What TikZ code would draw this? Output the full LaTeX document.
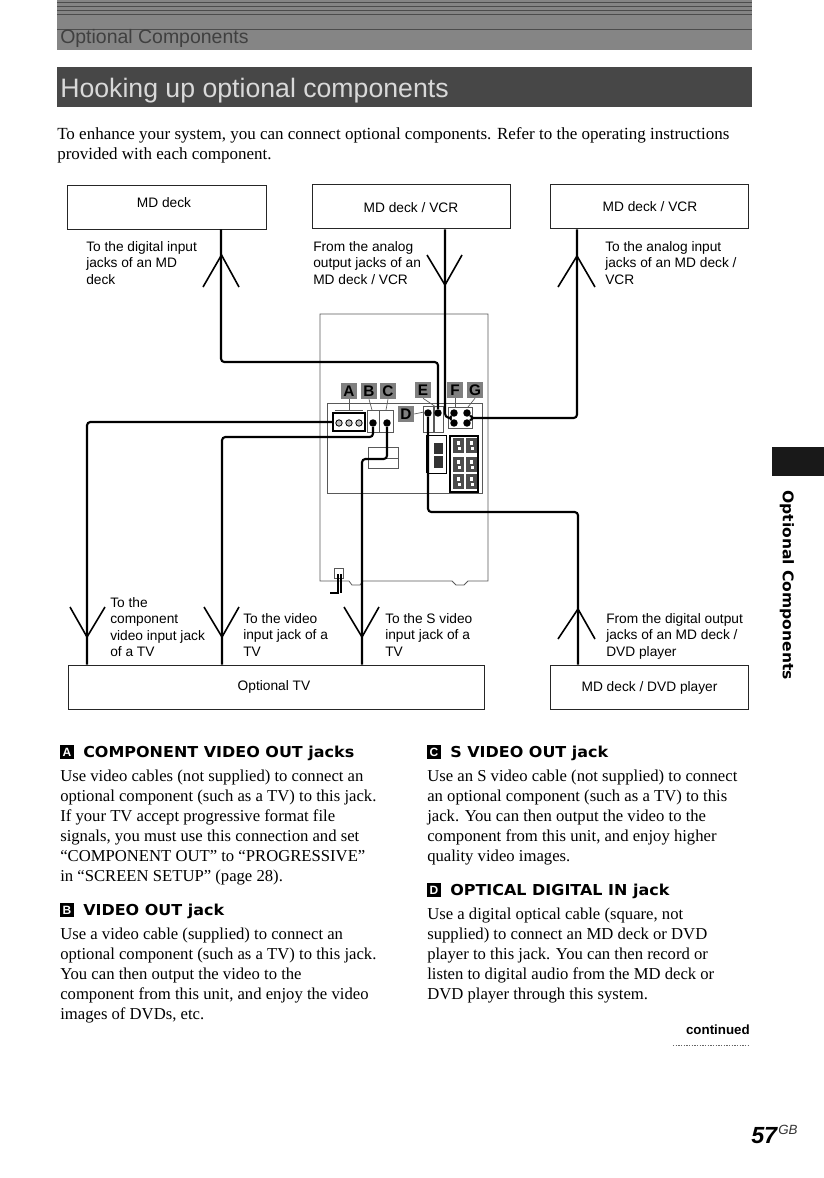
\documentclass[tikz,border=0pt]{standalone}
\usepackage{fontspec}
\setmainfont{Liberation Serif}
\newfontfamily\lab{Liberation Sans}
\newfontfamily\hd[FakeStretch=1.06]{DejaVu Sans}
\usetikzlibrary{calc}
\tikzset{
  px/.style={x=0.75pt,y=-0.75pt},
  devicebox/.style={draw=black!85,line width=0.7pt,fill=white,inner sep=0pt,font=\lab\fontsize{10.3}{11}\selectfont},
  devlabel/.style={anchor=center,inner sep=0pt,font=\lab\fontsize{10.3}{11}\selectfont},
  wire/.style={draw=black,line width=1.6pt,rounded corners=2.5pt},
  vee/.style={draw=black,line width=1.2pt},
  thinl/.style={draw=black!65,line width=0.5pt},
  med/.style={draw=black,line width=0.6pt},
  caption/.style={anchor=north west,inner sep=0pt,align=left,font=\lab\fontsize{10.3}{12.3}\selectfont},
  para/.style={anchor=north west,inner sep=0pt,align=left,font=\fontsize{12.5}{15}\selectfont},
  headg/.style={anchor=base west,inner sep=0pt,font=\hd\bfseries\fontsize{11.3}{13}\selectfont},
  badge/.style={fill=black,text=white,inner sep=0pt,minimum size=10.5pt,font=\lab\bfseries\fontsize{9}{10}\selectfont},
  tag/.style={fill=black!50,text=black,inner sep=0pt,minimum size=12pt,font=\lab\bfseries\fontsize{11.5}{12}\selectfont},
  jack/.style={circle,fill=black,inner sep=0pt,minimum size=5.6pt},
  ring/.style={circle,draw=black,fill=black!25,line width=0.6pt,inner sep=0pt,minimum size=4.8pt},
}
\begin{document}
\begin{tikzpicture}[px]
\useasboundingbox (0,0) rectangle (824,1178);
% bands
\fill[black!48] (57,0) rectangle (752,50);
\foreach \yy in {2,6,10,14,29} \draw[black!70,line width=0.6pt] (57,\yy) -- (752,\yy);
\node[anchor=base west,inner sep=0pt,text=black!75,font=\lab\fontsize{14.6}{18}\selectfont] (band1) at (60,43) {Optional Components};
\fill[black!72] (57,67) rectangle (752,107);
\node[anchor=base west,inner sep=0pt,text=black!15,font=\lab\fontsize{20}{24}\selectfont] (band2) at (60,97) {Hooking up optional components};
% intro
\node[para,font=\fontsize{12.75}{15}\selectfont] (intro) at (57,127) {To enhance your system, you can connect optional components. Refer to the operating instructions\\provided with each component.};
% body of the unit
\draw[thinl,line width=0.6pt] (349,581) -- (320,581) -- (320,314) -- (488,314) -- (488,581) -- (468,581) -- (464,585) -- (456,585) -- (452,581) -- (363,581) -- (360,585) -- (352,585) -- cycle;
\draw[thinl] (327,403) rectangle (482,493);
% power cord
\draw[thinl] (334,568) rectangle (343,578);
\draw[med,line width=0.9pt] (338,574) -- (338,593) -- (330,593);
\draw[med,line width=0.9pt] (341,574) -- (341,593);
% panel items
\draw[thinl] (335,410) -- (363,410);
\draw[thinl] (349,397) -- (349,410);
\draw[thinl] (367,410) rectangle (393,432);
\draw[thinl] (379,410) -- (379,432);
\draw[thinl] (368,447) rectangle (398,468);
\draw[thinl] (368,458) -- (398,458);
\draw[thinl] (423,406) rectangle (433,432);
\draw[thinl] (434,406) rectangle (443,432);
\draw[thinl] (448,407) rectangle (472,428);
\draw[draw=black,line width=1.6pt] (333,413) rectangle (365,431);
\node[ring] (rA1) at (339,423) {};
\node[ring] (rA2) at (349,423) {};
\node[ring] (rA3) at (359,423) {};
\draw[med] (427,435) rectangle (446,473);
\draw[draw=black,line width=1.4pt] (427,435) -- (427,473);
\fill[black!80] (434,443) rectangle (443,454);
\fill[black!80] (434,456) rectangle (443,468);
\draw[med,line width=0.9pt] (450,436) rectangle (478,492);
\foreach \xx in {453,466} \foreach \yy in {438,457,474} {
  \fill[black!70] (\xx,\yy) rectangle ++(11,15);
  \fill[white] (\xx+4,\yy+3) rectangle ++(3,4);
  \fill[white] (\xx+5,\yy+9) rectangle ++(3,3);
}
% letter tags
\node[tag] (tA) at (349,391) {A};
\node[tag] (tB) at (369,391) {B};
\node[tag] (tC) at (388,391) {C};
\node[tag] (tD) at (406,414) {D};
\node[tag] (tE) at (423,390) {E};
\node[tag] (tF) at (455,390) {F};
\node[tag] (tG) at (475,390) {G};
\draw[thinl] (tB.south) -- (372,410);
\draw[thinl] (tC.south) -- (386,410);
\draw[thinl] (tD.east) -- (424,412);
\draw[thinl] (tE.south) -- (436,407);
\draw[thinl] (tF.south) -- (455,407);
\draw[thinl] (tG.south) -- (468,407);
% device boxes
\node[devicebox,minimum width=149pt,minimum height=33pt] (box1) at (167,207) {};
\node[devlabel] (box1t) at (164,203) {MD deck};
\node[devicebox,minimum width=149pt,minimum height=33.5pt] (box2) at (411.5,206.5) {};
\node[devlabel] (box2t) at (411,208) {MD deck / VCR};
\node[devicebox,minimum width=149pt,minimum height=33.5pt] (box3) at (649.5,206.5) {};
\node[devlabel] (box3t) at (650,207) {MD deck / VCR};
\node[devicebox,minimum width=312pt,minimum height=33.5pt] (tv) at (276,687.5) {};
\node[devlabel] (tvt) at (274,687) {Optional TV};
\node[devicebox,minimum width=149pt,minimum height=33.5pt] (dvd) at (649.5,687.5) {MD deck / DVD player};
% jacks
\node[jack] (jE) at (428,413) {};
\node[jack] (jEb) at (438,413) {};
\node[jack] (jB) at (373,423) {};
\node[jack] (jC) at (387,423) {};
\node[jack] (f1) at (454,413) {};
\node[jack] (f2) at (467,413) {};
\node[jack] (f3) at (454,423) {};
\node[jack] (f4) at (467,423) {};
% wires
\coordinate (c1) at (221,362);
\draw[wire] (box1.south -| c1) -- (c1) -- (c1 -| jEb) -- (jEb);
\coordinate (c2) at (445,417);
\coordinate (fl) at (450,418);
\draw[wire] (box2.south -| c2) -- (c2) -- (fl);
\draw[wire,rounded corners=0pt] (f1) -- (fl) -- (f3);
\coordinate (fr) at (473,418);
\coordinate (c3) at (577,418);
\draw[wire] (box3.south -| c3) -- (c3) -- (fr);
\draw[wire,rounded corners=0pt] (f2) -- (fr) -- (f4);
\coordinate (c4) at (578,512);
\draw[wire] (jE) -- (jE |- c4) -- (c4) -- (dvd.north -| c4);
\coordinate (c5) at (87,422);
\draw[wire] (333,422) -- (c5) -- (tv.north -| c5);
\coordinate (c6) at (222,437);
\draw[wire] (jB) -- (jB |- c6) -- (c6) -- (tv.north -| c6);
\coordinate (c7) at (362,459);
\draw[wire] (jC) -- (jC |- c7) -- (c7) -- (tv.north -| c7);
% open arrowheads
\draw[vee] (203,287) -- (221.5,255) -- (239,287);
\draw[vee] (427,255) -- (445,285) -- (462,255);
\draw[vee] (558,287) -- (577,256) -- (595,287);
\draw[vee] (70,607) -- (87,637) -- (105,607);
\draw[vee] (204,607) -- (222,637) -- (239,607);
\draw[vee] (344,607) -- (362,637) -- (379,607);
\draw[vee] (558,639) -- (578,609) -- (595,639);
% captions
\node[caption] (l1) at (86,241) {To the digital input\\jacks of an MD\\deck};
\node[caption] (l2) at (313,241) {From the analog\\output jacks of an\\MD deck / VCR};
\node[caption] (l3) at (605,241) {To the analog input\\jacks of an MD deck /\\VCR};
\node[caption] (l4) at (110,597) {To the\\component\\video input jack\\of a TV};
\node[caption] (l5) at (243,613) {To the video\\input jack of a\\TV};
\node[caption] (l6) at (385,613) {To the S video\\input jack of a\\TV};
\node[caption] (l7) at (606,613) {From the digital output\\jacks of an MD deck /\\DVD player};
% text columns
\node[badge] (bA) at (67,752) {A};
\node[headg] (hA) at (83,757) {COMPONENT VIDEO OUT jacks};
\node[para] (pA) at (60,770) {Use video cables (not supplied) to connect an\\optional component (such as a TV) to this jack.\\If your TV accept progressive format file\\signals, you must use this connection and set\\“COMPONENT OUT” to “PROGRESSIVE”\\in “SCREEN SETUP” (page 28).};
\node[badge] (bB) at (67,910) {B};
\node[headg] (hB) at (83,915) {VIDEO OUT jack};
\node[para] (pB) at (60,928) {Use a video cable (supplied) to connect an\\optional component (such as a TV) to this jack.\\You can then output the video to the\\component from this unit, and enjoy the video\\images of DVDs, etc.};
\node[badge] (bC) at (434,752) {C};
\node[headg] (hC) at (450,757) {S VIDEO OUT jack};
\node[para] (pC) at (427,770) {Use an S video cable (not supplied) to connect\\an optional component (such as a TV) to this\\jack. You can then output the video to the\\component from this unit, and enjoy higher\\quality video images.};
\node[badge] (bD) at (434,890) {D};
\node[headg] (hD) at (450,895) {OPTICAL DIGITAL IN jack};
\node[para] (pD) at (427,908) {Use a digital optical cable (square, not\\supplied) to connect an MD deck or DVD\\player to this jack. You can then record or\\listen to digital audio from the MD deck or\\DVD player through this system.};
% continued
\node[anchor=base east,inner sep=0pt,font=\lab\bfseries\fontsize{10}{12}\selectfont] (cont) at (750,1034) {continued};
\draw[black!60,line width=0.6pt,dash pattern=on 1pt off 1pt] (673,1045) -- (750,1045);
% page number
\node[anchor=base west,inner sep=0pt,font=\lab\bfseries\itshape\fontsize{17.5}{22}\selectfont] (pg) at (751,1143) {57};
\node[anchor=base west,inner sep=0pt,text=black!80,font=\lab\itshape\fontsize{10}{10}\selectfont] (pgs) at (778,1134) {GB};
% side tab
\fill[black!90] (772,447) rectangle (824,476);
\node[anchor=west,rotate=-90,inner sep=0pt,font=\hd\bfseries\fontsize{11}{13}\selectfont] (side) at (787,490) {Optional Components};
\end{tikzpicture}
\end{document}
